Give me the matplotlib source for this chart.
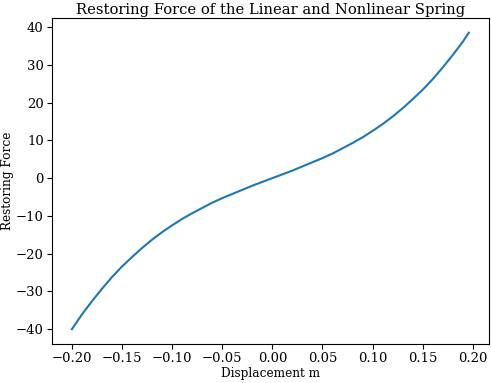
import matplotlib
matplotlib.use("Agg")
import matplotlib.pyplot as plt

plt.rcParams["font.family"] = "DejaVu Serif"

# displacement (m) and restoring force
displacement = [-0.20, -0.19, -0.18, -0.17, -0.16, -0.15, -0.14, -0.13, -0.12, -0.11,
                -0.10, -0.09, -0.08, -0.07, -0.06, -0.05, -0.04, -0.03, -0.02, -0.01,
                0.00, 0.01, 0.02, 0.03, 0.04, 0.05, 0.06, 0.07, 0.08, 0.09,
                0.10, 0.11, 0.12, 0.13, 0.14, 0.15, 0.16, 0.17, 0.18, 0.19, 0.196]
force = [-40.0, -36.1, -32.6, -29.3, -26.2, -23.4, -20.9, -18.5, -16.3, -14.3,
         -12.5, -10.8, -9.3, -7.9, -6.5, -5.3, -4.2, -3.1, -2.0, -1.0,
         0.0, 1.0, 2.0, 3.1, 4.2, 5.3, 6.5, 7.9, 9.3, 10.8,
         12.5, 14.3, 16.3, 18.5, 20.9, 23.4, 26.2, 29.3, 32.6, 36.1, 38.5]

fig = plt.figure(figsize=(4.91, 3.83), dpi=100)
ax = fig.add_axes([0.106, 0.102, 0.89, 0.851])
ax.plot(displacement, force, color="#1f77b4", linewidth=1.5)
ax.set_title("Restoring Force of the Linear and Nonlinear Spring", fontsize=10.6, pad=3)
ax.set_xlabel("Displacement m", fontsize=8.7, labelpad=1)
ax.set_ylabel("Restoring Force", fontsize=8.7, labelpad=1)
ax.tick_params(labelsize=9.5, length=3.5, pad=2.5)
ax.set_xticks([-0.20, -0.15, -0.10, -0.05, 0.00, 0.05, 0.10, 0.15, 0.20])
ax.set_xlim(-0.2198, 0.2162)
ax.set_ylim(-43.9, 42.4)
fig.savefig("out.png", dpi=100)
